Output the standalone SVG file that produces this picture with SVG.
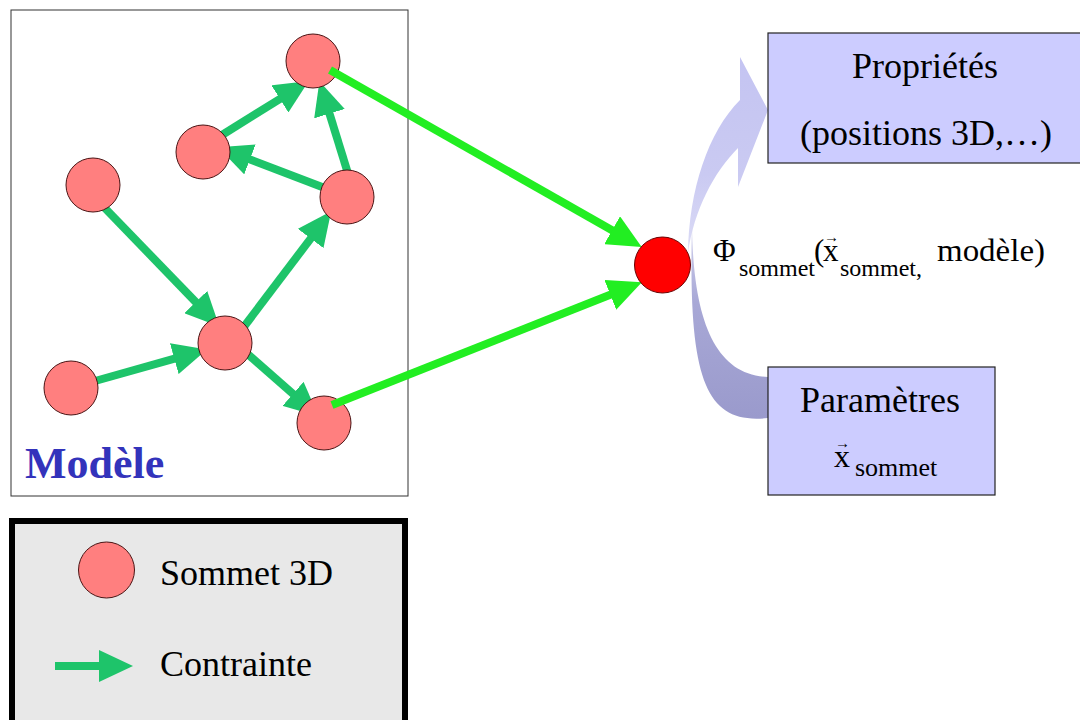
<svg xmlns="http://www.w3.org/2000/svg" width="1080" height="720" viewBox="0 0 1080 720">
  <style>
    .vtx { fill: #ff7f7f; stroke: #4a1414; stroke-width: 1; }
    .con { stroke: #1ec46a; stroke-width: 8; fill: none; }
    .flow { stroke: #22ee22; stroke-width: 8; fill: none; }
    .box { fill: #ccccff; stroke: #222; stroke-width: 1.2; }
  </style>
  <defs>
    <marker id="hCon" markerUnits="userSpaceOnUse" markerWidth="34" markerHeight="32" refX="4" refY="16" orient="auto">
      <path d="M0,0 L34,16 L0,32 Z" fill="#1ec46a"/>
    </marker>
    <marker id="hFlow" markerUnits="userSpaceOnUse" markerWidth="34" markerHeight="32" refX="4" refY="16" orient="auto">
      <path d="M0,0 L34,16 L0,32 Z" fill="#22ee22"/>
    </marker>
    <linearGradient id="gUp" x1="0" y1="0" x2="0" y2="1">
      <stop offset="0" stop-color="#c4c4f2"/>
      <stop offset="0.6" stop-color="#cacaf2"/>
      <stop offset="1" stop-color="#dcdcf6"/>
    </linearGradient>
    <linearGradient id="gDown" x1="0" y1="0" x2="0" y2="1">
      <stop offset="0" stop-color="#d4d4ee"/>
      <stop offset="0.4" stop-color="#a8a8d6"/>
      <stop offset="1" stop-color="#9a9acc"/>
    </linearGradient>
  </defs>
  <rect width="1080" height="720" fill="#ffffff"/>

  <!-- Model frame -->
  <g id="modele">
    <rect x="11" y="10" width="397" height="486" fill="#ffffff" stroke="#333" stroke-width="1"/>
    <text x="25" y="478" font-family="'Liberation Serif', serif" font-size="44" font-weight="bold" fill="#3333bb">Modèle</text>
  </g>

  <!-- Curved arrows -->
  <g id="curves">
    <path d="M688,253 C689,190 708,132 740,100 L740,57 L768,110 L738,187 L738,148 C714,172 694,210 688,253 Z" fill="url(#gUp)"/>
    <path d="M692,225 C693,320 715,375 768,377 L768,418 C705,425 688,380 692,225 Z" fill="url(#gDown)"/>
  </g>

  <!-- Connectors -->
  <g id="connectors">
    <line class="con" x1="222" y1="135" x2="283.3" y2="96.8" marker-end="url(#hCon)"/>
    <line class="con" x1="350" y1="180" x2="328.3" y2="109.8" marker-end="url(#hCon)"/>
    <line class="con" x1="330" y1="190" x2="246.2" y2="158" marker-end="url(#hCon)"/>
    <line class="con" x1="100" y1="203" x2="198.5" y2="304.9" marker-end="url(#hCon)"/>
    <line class="con" x1="243" y1="328" x2="313.1" y2="235.3" marker-end="url(#hCon)"/>
    <line class="con" x1="88" y1="383" x2="178.1" y2="357.6" marker-end="url(#hCon)"/>
    <line class="con" x1="243" y1="350" x2="296" y2="396.5" marker-end="url(#hCon)"/>
  </g>

  <!-- Vertices -->
  <g id="v1"><circle class="vtx" cx="313" cy="61" r="27"/></g>
  <g id="v2"><circle class="vtx" cx="203" cy="152" r="27"/></g>
  <g id="v3"><circle class="vtx" cx="93" cy="185" r="27"/></g>
  <g id="v4"><circle class="vtx" cx="347" cy="197" r="27"/></g>
  <g id="v5"><circle class="vtx" cx="225" cy="343" r="27"/></g>
  <g id="v6"><circle class="vtx" cx="71" cy="388" r="27"/></g>
  <g id="v7"><circle class="vtx" cx="324" cy="423" r="27"/></g>

  <!-- Flow connectors to the vertex function -->
  <g id="flows">
    <line class="flow" x1="330" y1="70" x2="615.6" y2="232.2" marker-end="url(#hFlow)"/>
    <line class="flow" x1="332" y1="405" x2="614" y2="293.3" marker-end="url(#hFlow)"/>
  </g>

  <!-- Vertex function -->
  <g id="phi" font-family="'Liberation Serif', serif" fill="#000">
    <circle cx="662.5" cy="265" r="28" fill="#ff0000" stroke="#6a0000" stroke-width="1"/>
    <text x="713" y="261" font-size="31">Φ<tspan font-size="24" x="739" y="276">sommet</tspan><tspan x="814" y="261">(</tspan><tspan x="823">x</tspan><tspan x="824" y="242" font-size="15">→</tspan><tspan font-size="24" x="840" y="276">sommet,</tspan></text>
    <text x="937" y="261" font-size="31" textLength="108" lengthAdjust="spacingAndGlyphs">modèle)</text>
  </g>

  <!-- Properties -->
  <g id="proprietes" font-family="'Liberation Serif', serif" fill="#000">
    <rect class="box" x="768" y="33" width="320" height="130"/>
    <text x="925" y="78" font-size="36" text-anchor="middle">Propriétés</text>
    <text x="926" y="145" font-size="36" text-anchor="middle">(positions 3D,…)</text>
  </g>

  <!-- Parameters -->
  <g id="parametres" font-family="'Liberation Serif', serif" fill="#000">
    <rect class="box" x="768" y="367" width="227" height="128"/>
    <text x="880" y="412" font-size="36" text-anchor="middle">Paramètres</text>
    <text x="834" y="467" font-size="32">x<tspan x="835" y="448" font-size="15">→</tspan><tspan x="855" y="476" font-size="26">sommet</tspan></text>
  </g>

  <!-- Legend -->
  <g id="legende" font-family="'Liberation Serif', serif">
    <rect x="12" y="521" width="393" height="215" fill="#e8e8e8" stroke="#000" stroke-width="6"/>
    <circle class="vtx" cx="106.5" cy="570" r="28"/>
    <text x="160" y="585" font-size="36" fill="#000">Sommet 3D</text>
    <line class="con" x1="55" y1="666" x2="103" y2="666" marker-end="url(#hCon)"/>
    <text x="160" y="676" font-size="36" fill="#000">Contrainte</text>
  </g>
</svg>
